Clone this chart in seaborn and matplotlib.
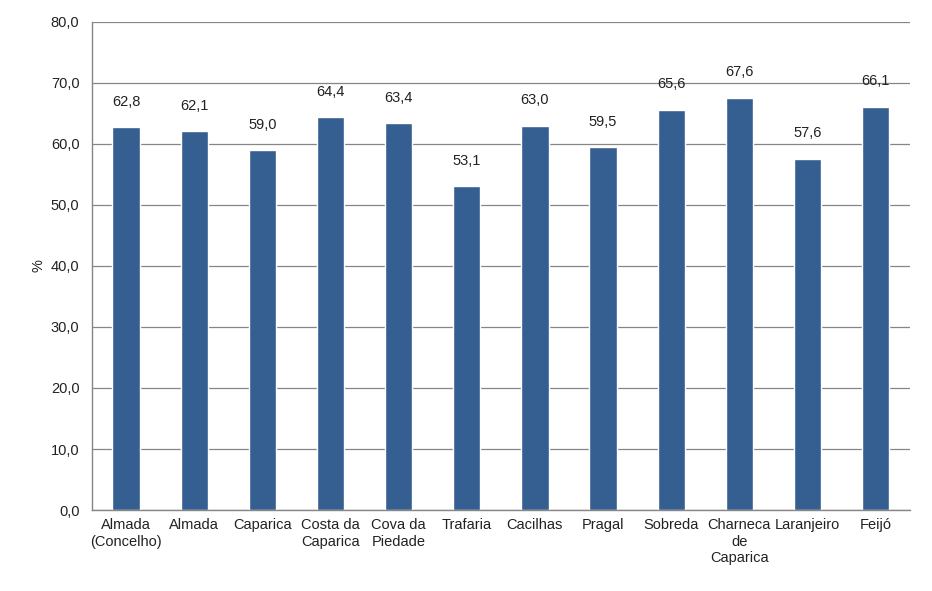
import numpy as np
import pandas as pd
import matplotlib
matplotlib.use('Agg')
import matplotlib.pyplot as plt
import seaborn as sns

# Data
freguesias = ['Almada\n(Concelho)', 'Almada', 'Caparica', 'Costa da\nCaparica', 'Cova da\nPiedade',
              'Trafaria', 'Cacilhas', 'Pragal', 'Sobreda', 'Charneca\nde\nCaparica', 'Laranjeiro', 'Feijó']
valores = [62.8, 62.1, 59.0, 64.4, 63.4, 53.1, 63.0, 59.5, 65.6, 67.6, 57.6, 66.1]
y_ticks = [0, 10, 20, 30, 40, 50, 60, 70, 80]

df = pd.DataFrame({'freguesia': freguesias, 'valor': valores})

sns.set_style('white')
plt.rcParams['font.family'] = ['Liberation Sans', 'DejaVu Sans']

fig = plt.figure(figsize=(9.32, 5.91), dpi=100)
ax = fig.add_axes([0.0987, 0.137, 0.8773, 0.826])

sns.barplot(data=df, x='freguesia', y='valor', color='#355E91', width=0.4, saturation=1, ax=ax)

# value labels
for i, v in enumerate(valores):
    ax.text(i, v + 3.0, f'{v:.1f}'.replace('.', ','), ha='center', va='bottom', fontsize=10.5, color='#222222')

ax.set_ylim(0, 80)
ax.set_xlim(-0.5, len(freguesias) - 0.5)
ax.set_yticks(y_ticks)
ax.set_yticklabels([f'{t:.1f}'.replace('.', ',') for t in y_ticks], fontsize=10.5, color='#222222')
ax.set_xticks(np.arange(len(freguesias)))
ax.set_xticklabels(freguesias, fontsize=10.5, color='#222222', linespacing=1.2)
ax.tick_params(axis='x', length=0, pad=6)
ax.set_xticks(np.arange(len(freguesias) + 1) - 0.5, minor=True)
ax.tick_params(axis='x', which='minor', length=5, color='#868686', width=1, direction='out')
ax.tick_params(axis='y', length=5, color='#868686', width=1, direction='out', pad=4)

ax.set_xlabel('')
ax.set_ylabel('%', fontsize=10.5, color='#222222')

ax.yaxis.grid(True, color='#868686', linewidth=0.9)
ax.set_axisbelow(True)
for side in ['top', 'right']:
    ax.spines[side].set_visible(False)
for side in ['left', 'bottom']:
    ax.spines[side].set_color('#868686')
    ax.spines[side].set_linewidth(1)

fig.savefig('out.png', dpi=100)
